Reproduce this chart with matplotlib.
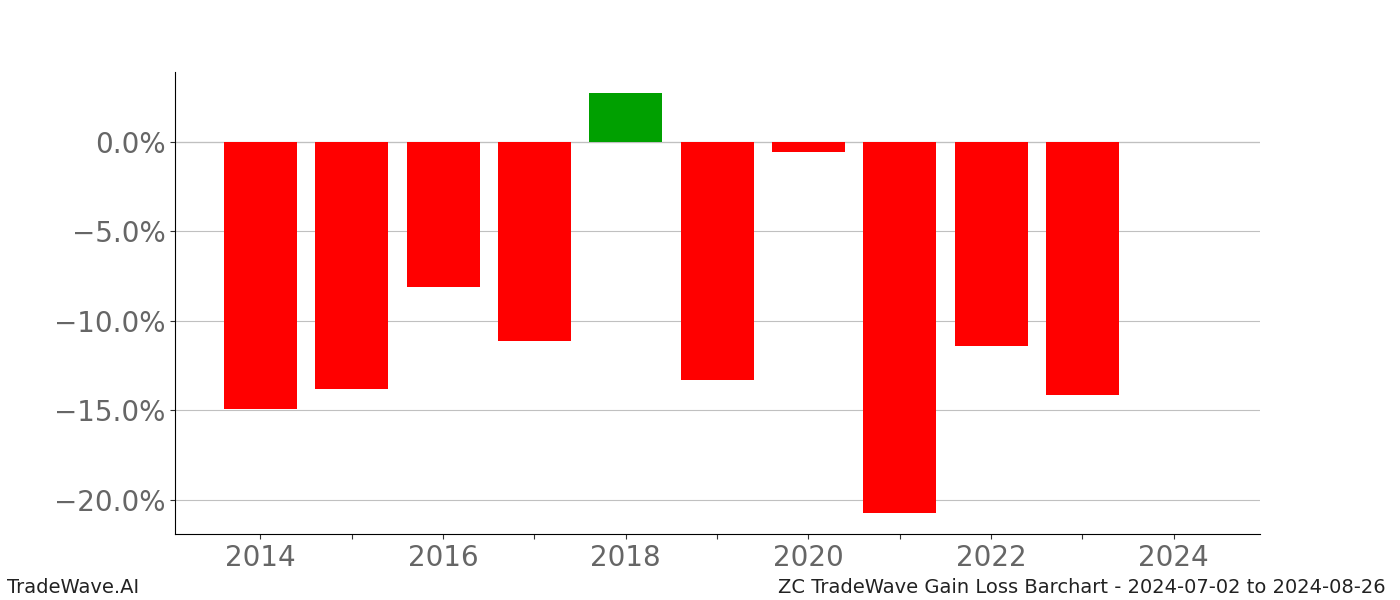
import matplotlib
matplotlib.use('Agg')
import matplotlib.pyplot as plt
from matplotlib.ticker import FuncFormatter

years = [2014, 2015, 2016, 2017, 2018, 2019, 2020, 2021, 2022, 2023]
gains = [-14.92, -13.8, -8.1, -11.12, 2.74, -13.3, -0.56, -20.73, -11.4, -14.13]

colors = ['#00a000' if g > 0 else '#ff0000' for g in gains]

fig, ax = plt.subplots(figsize=(14, 6), dpi=100)
ax.bar(years, gains, width=0.8, color=colors, zorder=2)
ax.axhline(0, color='#808080', lw=0.8, zorder=1)
ax.grid(axis='y', color='#c0c0c0', lw=0.8, zorder=0)

ax.set_xlim(2013.064, 2024.944)
ax.set_ylim(-21.9, 3.91)
ax.set_xticks(range(2014, 2025))
ax.set_xticklabels([str(y) if y % 2 == 0 else '' for y in range(2014, 2025)])
ax.yaxis.set_major_formatter(FuncFormatter(lambda v, p: f'{v:.1f}%'.replace('-', '\u2212')))
ax.set_yticks([0, -5, -10, -15, -20])
ax.tick_params(axis='both', labelsize=20, labelcolor='#666666', color='#333333')

ax.spines['top'].set_visible(False)
ax.spines['right'].set_visible(False)

fig.text(0.005, 0.005, 'TradeWave.AI', fontsize=14, color='#222222', ha='left', va='bottom')
fig.text(0.99, 0.005, 'ZC TradeWave Gain Loss Barchart - 2024-07-02 to 2024-08-26',
         fontsize=14, color='#222222', ha='right', va='bottom')

fig.savefig('out.png')
